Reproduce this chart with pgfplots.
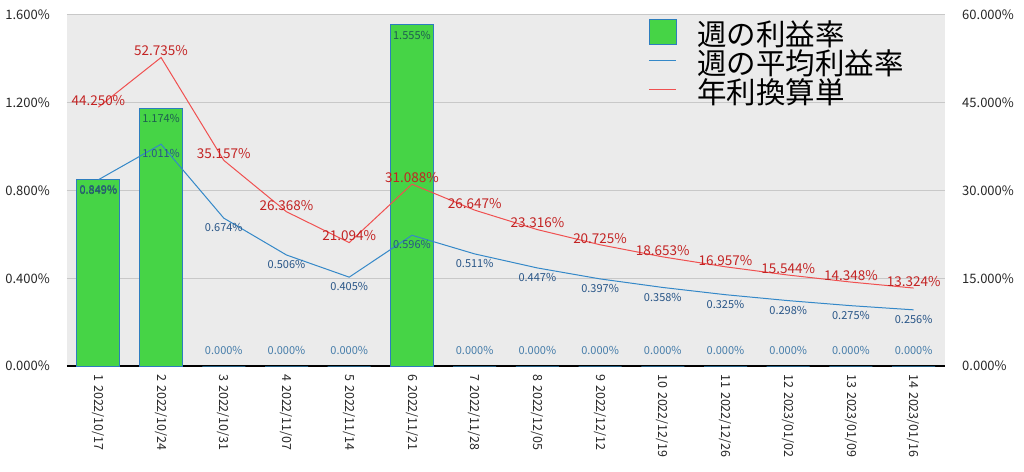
\documentclass[border=0pt]{standalone}
\usepackage{pgfplots}
\pgfplotsset{compat=1.18}
\usepackage{fontspec}
\setmainfont{Noto Sans CJK JP}
\definecolor{barg}{RGB}{70,212,70}
\definecolor{barb}{RGB}{45,125,190}
\definecolor{bluel}{RGB}{52,136,200}
\definecolor{redl}{RGB}{240,80,80}
\definecolor{bluet}{RGB}{40,85,135}
\definecolor{redt}{RGB}{195,35,35}
\definecolor{bart}{RGB}{30,95,80}
\definecolor{zerot}{RGB}{70,125,170}
\definecolor{bgc}{RGB}{235,235,235}
\definecolor{gridc}{RGB}{200,200,200}
\newcommand{\gapsp}{\hspace{4pt}}
\begin{document}
\begin{tikzpicture}
\begin{axis}[
  width=878pt, height=351pt, scale only axis,
  xmin=-0.5, xmax=13.5, ymin=0, ymax=1.6,
  xtick={0,...,13},
  xticklabels={1\gapsp 2022/10/17,2\gapsp 2022/10/24,3\gapsp 2022/10/31,4\gapsp 2022/11/07,5\gapsp 2022/11/14,6\gapsp 2022/11/21,7\gapsp 2022/11/28,8\gapsp 2022/12/05,9\gapsp 2022/12/12,10\gapsp 2022/12/19,11\gapsp 2022/12/26,12\gapsp 2023/01/02,13\gapsp 2023/01/09,14\gapsp 2023/01/16},
  xticklabel style={rotate=-90, anchor=west, inner xsep=8pt, inner ysep=0pt, font=\fontsize{12.5}{13}\selectfont, text=black!85},
  ytick={0,0.4,0.8,1.2,1.6},
  scaled ticks=false,
  yticklabel={\pgfmathprintnumber[fixed,fixed zerofill,precision=3]{\tick}\%},
  yticklabel style={font=\fontsize{13}{14}\selectfont, text=black!85, inner sep=0pt, xshift=-17pt},
  /pgf/number format/assume math mode=true,
  axis background/.style={fill=bgc},
  ymajorgrids, grid style={gridc, line width=1pt},
  major tick length=0pt,
  axis x line*=bottom, axis y line*=left,
  x axis line style={black, line width=1.8pt, -},
  y axis line style={draw=none},
  clip=false,
]
\addplot[ybar, bar width=43pt, fill=barg, draw=barb, line width=0.8pt]
  coordinates {(0,0.849) (1,1.174) (2,0) (3,0) (4,0) (5,1.555) (6,0) (7,0) (8,0) (9,0) (10,0) (11,0) (12,0) (13,0)};
\addplot[draw=none, mark=none, point meta=explicit symbolic,
  nodes near coords={\pgfplotspointmeta\%},
  every node near coord/.append style={anchor=north, inner sep=0pt, yshift=-6pt, text=bart, font=\fontsize{11}{12}\selectfont}]
  coordinates {(0,0.849)[0.849] (1,1.174)[1.174] (5,1.555)[1.555]};
\addplot[draw=none, mark=none, point meta=explicit symbolic,
  nodes near coords={\pgfplotspointmeta\%},
  every node near coord/.append style={anchor=south, inner sep=0pt, yshift=11pt, text=zerot, font=\fontsize{11}{12}\selectfont}]
  coordinates {(2,0)[0.000] (3,0)[0.000] (4,0)[0.000] (6,0)[0.000] (7,0)[0.000] (8,0)[0.000] (9,0)[0.000] (10,0)[0.000] (11,0)[0.000] (12,0)[0.000] (13,0)[0.000]};
\addplot[bluel, line width=1pt, mark=none, point meta=explicit symbolic,
  nodes near coords={\pgfplotspointmeta\%},
  every node near coord/.append style={anchor=north, inner sep=0pt, yshift=-5pt, text=bluet, font=\fontsize{11}{12}\selectfont}]
  coordinates {(0,0.849)[0.849] (1,1.011)[1.011] (2,0.674)[0.674] (3,0.506)[0.506] (4,0.405)[0.405] (5,0.596)[0.596] (6,0.511)[0.511] (7,0.447)[0.447] (8,0.397)[0.397] (9,0.358)[0.358] (10,0.325)[0.325] (11,0.298)[0.298] (12,0.275)[0.275] (13,0.256)[0.256]};
\end{axis}
\begin{axis}[
  width=878pt, height=351pt, scale only axis,
  xmin=-0.5, xmax=13.5, ymin=0, ymax=60,
  axis x line=none, axis y line*=right,
  y axis line style={draw=none},
  ytick={0,15,30,45,60},
  scaled ticks=false,
  yticklabel={\pgfmathprintnumber[fixed,fixed zerofill,precision=3]{\tick}\%},
  yticklabel style={font=\fontsize{13}{14}\selectfont, text=black!85, inner sep=0pt, anchor=west, xshift=17pt},
  /pgf/number format/assume math mode=true,
  major tick length=0pt,
  clip=false,
  legend style={at={(0.662,1)}, anchor=north west, yshift=-4pt, draw=none, fill=none, inner sep=0pt,
    font=\fontsize{29.5}{30}\selectfont, row sep=2.5pt,
    nodes={inner sep=0pt},
    /tikz/every odd column/.style={column sep=21pt}},
  legend cell align=left,
]
\addlegendimage{legend image code/.code={\draw[fill=barg,draw=barb,line width=0.8pt] (0pt,-11pt) rectangle (27pt,14pt);}}
\addlegendentry{週の利益率}
\addlegendimage{legend image code/.code={\draw[bluel,line width=1pt] (0pt,2pt) -- (27pt,2pt);}}
\addlegendentry{週の平均利益率}
\addlegendimage{legend image code/.code={\draw[redl,line width=1pt] (0pt,2pt) -- (27pt,2pt);}}
\addlegendentry{年利換算単}
\addplot[redl, line width=1pt, mark=none, forget plot, point meta=explicit symbolic,
  nodes near coords={\pgfplotspointmeta\%},
  every node near coord/.append style={anchor=south, inner sep=1pt, text=redt, font=\fontsize{13.5}{14}\selectfont}]
  coordinates {(0,44.250)[44.250] (1,52.735)[52.735] (2,35.157)[35.157] (3,26.368)[26.368] (4,21.094)[21.094] (5,31.088)[31.088] (6,26.647)[26.647] (7,23.316)[23.316] (8,20.725)[20.725] (9,18.653)[18.653] (10,16.957)[16.957] (11,15.544)[15.544] (12,14.348)[14.348] (13,13.324)[13.324]};
\end{axis}
\pgfresetboundingbox
\path[use as bounding box] (-67pt,-105pt) rectangle (957pt,366pt);
\end{tikzpicture}
\end{document}
